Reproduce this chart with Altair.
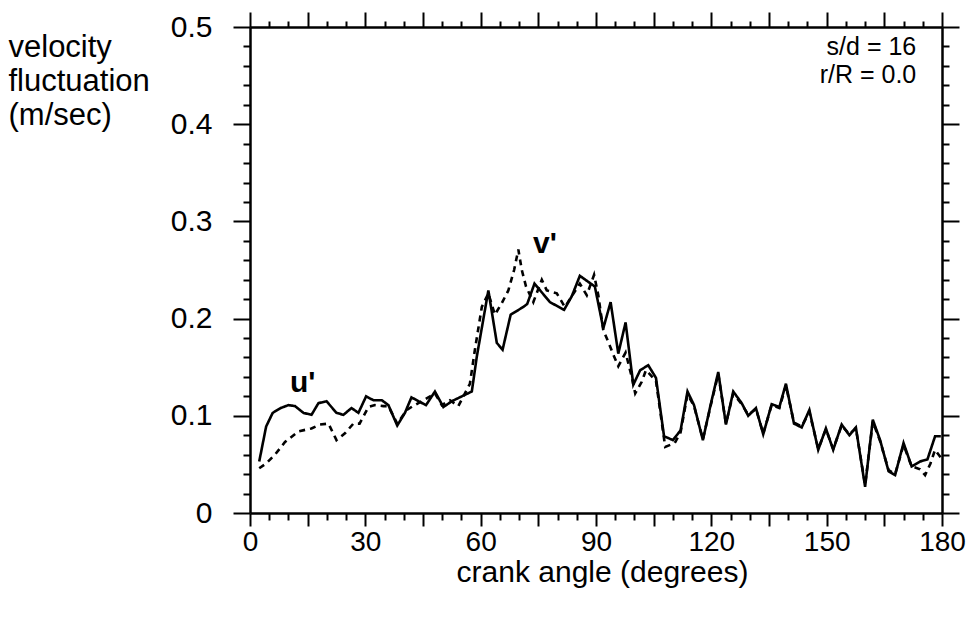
import altair as alt
import pandas as pd

# ---------------- data ----------------
u_angle = [2.4, 4.2, 5.9, 8.0, 10.0, 11.7, 13.9, 16.0, 17.8, 19.9, 22.5, 24.3, 26.4, 28.2,
           30.2, 32.1, 34.3, 36.0, 38.3, 40.3, 42.0, 43.8, 45.8, 48.1, 50.3, 52.5, 55.1,
           57.7, 59.0, 62.0, 64.2, 65.7, 67.8, 71.1, 72.1, 74.0, 78.0, 81.7, 83.7, 85.8,
           89.7, 91.9, 93.8, 95.8, 97.7, 99.7, 101.5, 103.6, 105.6, 107.7, 110.0, 112.0,
           113.8, 115.5, 117.8, 119.8, 121.8, 123.8, 125.7, 127.9, 129.6, 131.6, 133.5,
           135.7, 137.7, 139.4, 141.5, 143.5, 145.5, 147.8, 149.8, 151.7, 153.9, 155.9,
           157.6, 160.0, 162.0, 163.9, 166.1, 167.8, 170.0, 172.1, 174.3, 176.2, 178.2, 179.7]
u_vel = [0.053, 0.089, 0.103, 0.108, 0.111, 0.110, 0.103, 0.101, 0.113, 0.115, 0.103, 0.101,
         0.108, 0.103, 0.120, 0.116, 0.116, 0.111, 0.090, 0.103, 0.119, 0.115, 0.111, 0.125,
         0.109, 0.115, 0.120, 0.125, 0.161, 0.229, 0.175, 0.168, 0.204, 0.212, 0.215, 0.236,
         0.217, 0.209, 0.223, 0.244, 0.233, 0.190, 0.217, 0.164, 0.196, 0.132, 0.147, 0.152,
         0.139, 0.079, 0.075, 0.085, 0.125, 0.111, 0.075, 0.111, 0.145, 0.091, 0.125, 0.113,
         0.100, 0.108, 0.081, 0.112, 0.109, 0.133, 0.092, 0.088, 0.106, 0.065, 0.087, 0.065,
         0.091, 0.080, 0.088, 0.027, 0.096, 0.075, 0.043, 0.039, 0.072, 0.048, 0.053, 0.055,
         0.079, 0.079]

v_angle = [2.4, 4.2, 6.5, 9.1, 12.6, 16.0, 18.2, 20.4, 22.5, 24.7, 26.9, 28.5, 30.8, 32.5,
           34.7, 36.0, 38.3, 40.8, 42.4, 45.1, 48.1, 49.9, 52.0, 54.2, 57.2, 58.5, 60.3, 62.0,
           63.7, 65.5, 67.2, 68.7, 69.8, 70.7, 71.8, 73.7, 75.9, 77.2, 79.8, 81.9, 83.7, 85.8,
           87.6, 89.5, 90.6, 91.9, 93.2, 94.5, 95.8, 97.7, 99.3, 100.2, 101.9, 103.0, 105.6,
           108.0, 110.5, 112.0, 113.8, 115.5, 117.8, 119.8, 121.8, 123.8, 125.7, 127.9, 129.6,
           131.6, 133.5, 135.7, 137.7, 139.4, 141.5, 143.5, 145.5, 147.8, 149.8, 151.7, 153.9,
           155.9, 157.6, 160.0, 162.0, 163.9, 166.1, 167.8, 170.0, 172.1, 174.3, 175.6, 177.0,
           178.2, 179.7]
v_vel = [0.046, 0.051, 0.060, 0.073, 0.084, 0.087, 0.091, 0.092, 0.075, 0.082, 0.092, 0.092,
         0.109, 0.111, 0.110, 0.110, 0.092, 0.106, 0.110, 0.116, 0.123, 0.111, 0.116, 0.110,
         0.133, 0.168, 0.212, 0.226, 0.204, 0.216, 0.229, 0.250, 0.271, 0.250, 0.233, 0.217,
         0.240, 0.229, 0.226, 0.212, 0.223, 0.236, 0.224, 0.245, 0.224, 0.188, 0.176, 0.163,
         0.151, 0.165, 0.140, 0.123, 0.135, 0.147, 0.136, 0.068, 0.072, 0.083, 0.122, 0.110,
         0.076, 0.110, 0.143, 0.092, 0.123, 0.112, 0.101, 0.107, 0.082, 0.111, 0.108, 0.131,
         0.093, 0.089, 0.104, 0.066, 0.086, 0.066, 0.090, 0.081, 0.087, 0.029, 0.094, 0.074,
         0.044, 0.040, 0.070, 0.048, 0.045, 0.039, 0.051, 0.065, 0.057]

series_names = ["u'", "v'"]
x_tick_values = list(range(0, 181, 5))
y_tick_values = [round(i * 0.02, 2) for i in range(26)]

curve_labels = ["u'", "v'"]
curve_label_x = [10.4, 73.6]
curve_label_y = [0.124, 0.267]

case_labels = ["s/d = 16", "r/R = 0.0"]
case_label_x = [173.3, 173.3]
case_label_y = [0.471, 0.442]

# ---------------- tables ----------------
df = pd.concat([
    pd.DataFrame({"angle": u_angle, "vel": u_vel, "series": series_names[0]}),
    pd.DataFrame({"angle": v_angle, "vel": v_vel, "series": series_names[1]}),
], ignore_index=True)
df_curve = pd.DataFrame({"angle": curve_label_x, "vel": curve_label_y, "t": curve_labels})
df_case = pd.DataFrame({"angle": case_label_x, "vel": case_label_y, "t": case_labels})

FONT = "Liberation Sans"
xscale = alt.Scale(domain=[0, 180], nice=False, zero=False)
yscale = alt.Scale(domain=[0, 0.5], nice=False, zero=False)
major_y = "abs(datum.value * 10 - round(datum.value * 10)) < 0.001"
major_x = "datum.value % 15 === 0"

common = dict(domainColor="black", domainWidth=2.5, tickColor="black", tickWidth=2,
              grid=False, labelColor="black", labelFont=FONT, titleFont=FONT,
              titleColor="black", titleFontWeight="normal", labelOverlap=False,
              labelFlush=False, labelBound=False)

x_bottom = alt.Axis(values=x_tick_values, orient="bottom",
                    tickSize={"condition": {"test": major_x, "value": 13}, "value": 7},
                    labelExpr="datum.value % 30 === 0 ? datum.label : ''",
                    labelFontSize=28, labelPadding=2,
                    title="crank angle (degrees)", titleFontSize=30,
                    titleX=352, titleY=68, titleAlign="center", titleBaseline="alphabetic",
                    **common)
y_left = alt.Axis(values=y_tick_values, orient="left",
                  tickSize={"condition": {"test": major_y, "value": 17}, "value": 7},
                  labelExpr="(" + major_y + ") ? (datum.value == 0 ? '0' : format(datum.value, '.1f')) : ''",
                  labelFontSize=30, labelPadding=21,
                  title=["velocity", "fluctuation", "(m/sec)"], titleFontSize=31,
                  titleAngle=0, titleAlign="left", titleBaseline="alphabetic",
                  titleX=-242, titleY=29, titleLineHeight=34,
                  **common)
x_top = alt.Axis(values=x_tick_values, orient="top", labels=False, title=None,
                 tickSize={"condition": {"test": major_x, "value": 15}, "value": 6},
                 **common)
y_right = alt.Axis(values=y_tick_values, orient="right", labels=False, title=None,
                   tickSize={"condition": {"test": major_y, "value": 17}, "value": 7},
                   **common)

lines = alt.Chart(df).mark_line(color="black", strokeWidth=2.6).encode(
    x=alt.X("angle:Q", scale=xscale, axis=x_bottom),
    y=alt.Y("vel:Q", scale=yscale, axis=y_left),
    strokeDash=alt.StrokeDash("series:N", scale=alt.Scale(domain=series_names, range=[[1, 0], [6, 5]]), legend=None),
    detail="series:N",
)

frame = alt.Chart(df).mark_line(opacity=0).encode(
    x=alt.X("angle:Q", scale=xscale, axis=x_top),
    y=alt.Y("vel:Q", scale=yscale, axis=y_right),
    detail="series:N",
)

curve_text = alt.Chart(df_curve).mark_text(font=FONT, fontSize=30, fontWeight="bold",
                                           align="left", baseline="alphabetic", color="black").encode(
    x=alt.X("angle:Q", scale=xscale, axis=None),
    y=alt.Y("vel:Q", scale=yscale, axis=None),
    text="t:N",
)
case_text = alt.Chart(df_case).mark_text(font=FONT, fontSize=25, align="right",
                                         baseline="alphabetic", color="black").encode(
    x=alt.X("angle:Q", scale=xscale, axis=None),
    y=alt.Y("vel:Q", scale=yscale, axis=None),
    text="t:N",
)

chart = alt.layer(lines, frame, curve_text, case_text).resolve_axis(
    x="independent", y="independent"
).properties(
    width=692, height=486,
    autosize=alt.AutoSizeParams(type="none"),
    padding={"left": 242, "top": 19, "right": 24, "bottom": 84},
).configure_view(stroke=None).configure(background="white")

chart.save("out.html", embed_options={"renderer": "svg", "actions": False})
